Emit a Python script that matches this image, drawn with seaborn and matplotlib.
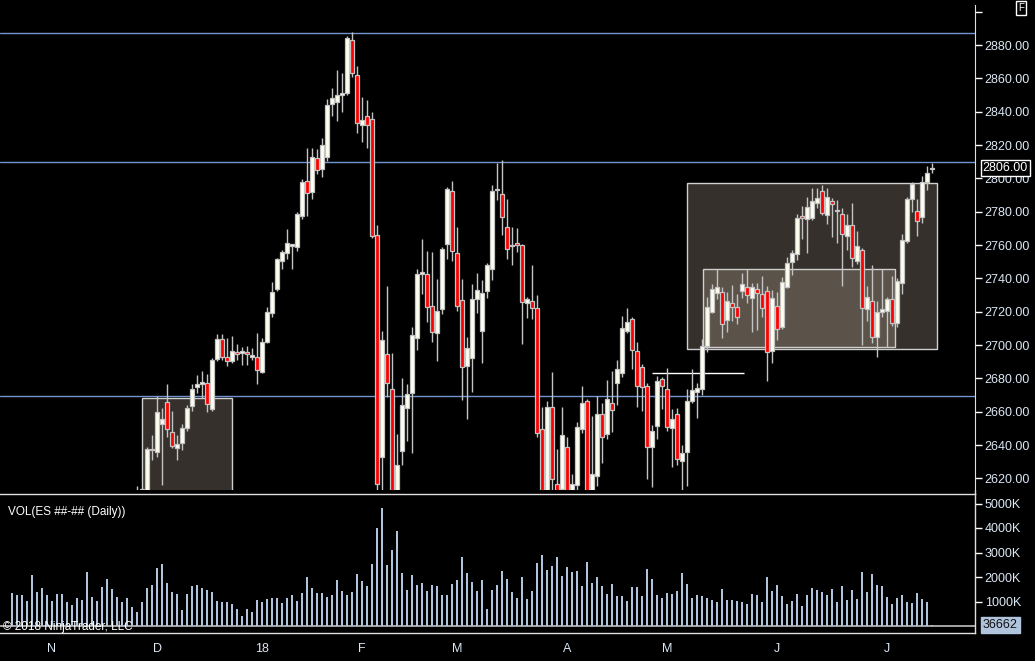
import numpy as np
import pandas as pd
import matplotlib
matplotlib.use("Agg")
import matplotlib.pyplot as plt
import matplotlib.transforms as mtransforms
from matplotlib.patches import Rectangle
import seaborn as sns

# daily ES bars, oldest first (late Oct 2017 .. early Jul 2018)
opens = [
    2566, 2570, 2573, 2577, 2580, 2584, 2586, 2589, 2587, 2592,
    2594, 2586, 2581, 2573, 2577, 2575, 2593, 2589, 2584, 2590,
    2596, 2597, 2600, 2603, 2604, 2601, 2606, 2608, 2637, 2636,
    2652.3, 2665.5, 2647.5, 2638, 2641.3, 2650.3, 2663.5, 2674.6, 2676.4, 2677,
    2661.4, 2691.4, 2703.5, 2693, 2690.2, 2695.6, 2695.5, 2696, 2692.6, 2693,
    2683.6, 2702, 2719.1, 2733.6, 2750.6, 2755.2, 2759.5, 2758.6, 2777.3, 2798.6,
    2791.7, 2812.4, 2805.8, 2813, 2844.5, 2846, 2850.2, 2851.5, 2883.2, 2862.1,
    2832, 2837.5, 2835.9, 2765.8, 2632.6, 2694.4, 2673.4, 2585, 2636.6, 2662,
    2671, 2704, 2742.4, 2742.8, 2723.2, 2707, 2721.4, 2760.4, 2792.2, 2755,
    2726.8, 2687.4, 2692, 2727.6, 2708.6, 2732.2, 2745.4, 2792.8, 2790.4, 2770.6,
    2759.2, 2761, 2759.8, 2725, 2726.6, 2722, 2649.4, 2598, 2663, 2616.4,
    2613.6, 2638.6, 2595, 2616, 2649.4, 2666.6, 2598, 2621.4, 2658.4, 2646.4,
    2665.4, 2677, 2683, 2708.2, 2715.4, 2696.2, 2686.6, 2675.6, 2638.6, 2651.6,
    2679.4, 2673.8, 2650.2, 2658.8, 2630.4, 2635.6, 2666.6, 2672, 2673.4, 2699.6,
    2719.6, 2731, 2732, 2714.8, 2725.4, 2722.6, 2732.2, 2734.6, 2728, 2733.4,
    2730.4, 2732.6, 2696.6, 2723.6, 2711, 2734.6, 2749.6, 2754.4, 2777.4, 2775.4,
    2776.4, 2785, 2792.2, 2778, 2786.6, 2780.2, 2778.4, 2765.2, 2771.8, 2750.2,
    2756.8, 2721.4, 2726.2, 2704.6, 2719.6, 2720.6, 2727.4, 2713, 2737, 2762.2,
    2787.4, 2780.6, 2776.6, 2798, 2805.4,
]
highs = [
    2574, 2576, 2580, 2583, 2588, 2590, 2592, 2593, 2595, 2597,
    2596, 2590, 2584, 2580, 2582, 2596, 2597, 2592, 2592, 2598,
    2600, 2602, 2605, 2606, 2607, 2615.5, 2614, 2638.6, 2646, 2669.5,
    2662, 2676.6, 2660.3, 2646, 2652.5, 2664, 2676.6, 2682, 2684.4, 2682.6,
    2692, 2706.7, 2706.7, 2704, 2705.5, 2700.6, 2699, 2699.5, 2698, 2707,
    2704.5, 2722.7, 2737.8, 2752.2, 2757, 2769.3, 2760.8, 2779.7, 2799.4, 2818,
    2818.4, 2817.8, 2824, 2847.4, 2854, 2865, 2863, 2885.6, 2887.6, 2867.2,
    2849, 2846.9, 2840, 2772, 2708.4, 2735.4, 2695.4, 2646.6, 2680, 2676.6,
    2710.8, 2745.4, 2763.4, 2756.4, 2756, 2739.4, 2758.6, 2794.6, 2798.2, 2770.6,
    2739.4, 2704.6, 2736.4, 2743, 2739, 2749, 2796, 2809, 2811, 2787.4,
    2771, 2770, 2760.5, 2729, 2748, 2730, 2663, 2666.6, 2684, 2637.6,
    2663, 2645, 2622.4, 2653.6, 2675.6, 2667.6, 2657.4, 2669.6, 2665, 2679,
    2684.4, 2691, 2717.4, 2722, 2717, 2701.6, 2688.6, 2677, 2652, 2681.4,
    2680.6, 2686, 2661.4, 2662, 2640, 2673.4, 2685.4, 2677.4, 2703.4, 2729,
    2736.6, 2745.4, 2734.6, 2731.6, 2736, 2730.6, 2743, 2745.4, 2737, 2737,
    2741.4, 2735.4, 2733, 2731.6, 2740.6, 2752.6, 2757, 2778.6, 2783.4, 2788.6,
    2794, 2794, 2796, 2794, 2788, 2787, 2782.4, 2778.4, 2785, 2768.4,
    2758, 2735.4, 2748, 2726.6, 2745.4, 2729, 2741.4, 2740, 2766.6, 2788.6,
    2798, 2787.4, 2801.4, 2807.4, 2809,
]
lows = [
    2562, 2565, 2569, 2572, 2574, 2579, 2580, 2583, 2584, 2586,
    2583, 2578, 2570, 2566, 2571, 2574, 2585, 2581, 2582, 2587,
    2591, 2594, 2597, 2599, 2598, 2595, 2600, 2604, 2631, 2633,
    2616, 2645, 2638, 2631, 2637, 2648.3, 2660.5, 2671.4, 2668, 2660,
    2660.5, 2690.5, 2691, 2687.6, 2689, 2691, 2688, 2688, 2691, 2676.4,
    2683, 2701, 2717, 2732.4, 2745.6, 2751.6, 2745.6, 2756.2, 2775.7, 2777.7,
    2787.3, 2802.4, 2800.7, 2810.5, 2837.5, 2834.4, 2839.9, 2850, 2860.6, 2827.5,
    2821.8, 2818.4, 2764, 2590, 2585, 2669, 2570, 2560, 2628, 2642.6,
    2635.4, 2697, 2730.6, 2714, 2702, 2690.6, 2718.4, 2751.4, 2750.6, 2720.4,
    2667, 2655.4, 2672, 2719, 2689.4, 2728, 2739, 2787, 2766, 2751.4,
    2748, 2756, 2700.6, 2716, 2715.6, 2644.6, 2585, 2590, 2600, 2575,
    2595, 2553, 2585, 2605, 2647.4, 2590, 2590, 2615.4, 2629.4, 2643.4,
    2648, 2664, 2681, 2707, 2685.4, 2663, 2660.6, 2619.4, 2614.6, 2643.4,
    2661.4, 2648.6, 2626.6, 2628, 2613, 2615.4, 2665, 2656, 2670, 2696,
    2719, 2727.6, 2704, 2708, 2714.4, 2712.4, 2728, 2725, 2708, 2709,
    2717, 2678.6, 2689.4, 2703, 2709.4, 2734, 2742, 2751, 2763.4, 2755.4,
    2775, 2782, 2778, 2772.4, 2765, 2761, 2735.4, 2757, 2746.6, 2748.6,
    2700, 2714.4, 2701, 2693, 2717, 2698.6, 2711.6, 2711, 2730.6, 2761,
    2780, 2765.4, 2773.4, 2793, 2803.4,
]
closes = [
    2570, 2573, 2577, 2580, 2584, 2586, 2589, 2587, 2592, 2594,
    2586, 2581, 2573, 2577, 2575, 2593, 2589, 2584, 2590, 2596,
    2597, 2600, 2603, 2604, 2601, 2606, 2613.4, 2637.5, 2637, 2659.5,
    2655.3, 2649.3, 2639.5, 2640.5, 2650.5, 2662.5, 2673.4, 2676.4, 2677.6, 2664.3,
    2691, 2703.5, 2692.6, 2690.2, 2696.4, 2694.6, 2695.5, 2694.6, 2694, 2685,
    2701.7, 2719.7, 2732.1, 2751.6, 2755.8, 2761.3, 2759.5, 2778.7, 2798, 2791.3,
    2813, 2805, 2820, 2844, 2848, 2850, 2850.2, 2884, 2863.1, 2833.5,
    2834.9, 2831.9, 2765.4, 2616.6, 2702.8, 2677, 2590, 2628, 2663.8, 2670.4,
    2705.8, 2742.4, 2743.6, 2722.6, 2707.6, 2720.2, 2757.4, 2793.4, 2756.2, 2723.4,
    2686.6, 2698.4, 2727.4, 2732.8, 2731.4, 2747.8, 2792.2, 2792.8, 2776.6, 2757.4,
    2759.2, 2759.8, 2726, 2727.4, 2722, 2647, 2600, 2663, 2619.4, 2590,
    2646.2, 2580, 2616.8, 2650.6, 2665.4, 2600, 2622.4, 2658.4, 2644.8, 2667.4,
    2660.8, 2685.4, 2710, 2713.6, 2696.8, 2675.2, 2674.6, 2638.8, 2648.2, 2678.2,
    2675.4, 2650.6, 2655.8, 2631.6, 2635.4, 2666.6, 2673.2, 2674, 2699.6, 2722.6,
    2733.4, 2734.6, 2712.4, 2726.6, 2722.8, 2716.8, 2736.4, 2730, 2734.6, 2731,
    2722, 2695.6, 2728, 2709.4, 2737.6, 2749, 2755, 2776, 2776, 2782.6,
    2786.6, 2788.2, 2779, 2788.6, 2784.4, 2780.2, 2766.4, 2771.8, 2752.4, 2759.2,
    2722, 2728.6, 2704.6, 2719.6, 2721.4, 2727.4, 2713, 2738.2, 2762.8, 2787.4,
    2796.6, 2774.2, 2798, 2803, 2806,
]
volume_k = [
    1360, 1253, 1280, 1040, 2080, 1400, 1560, 1253, 1040, 1293,
    1320, 1000, 840, 1160, 1080, 2200, 1200, 1040, 1600, 1920,
    1520, 1200, 1000, 1160, 760, 560, 960, 1560, 1680, 2360,
    2520, 1760, 1400, 1320, 640, 1320, 1640, 1680, 1560, 1480,
    1400, 1040, 1000, 1000, 880, 680, 400, 680, 560, 1080,
    1000, 1120, 1160, 1160, 920, 1160, 1280, 1040, 1360, 2000,
    1560, 1360, 1360, 1200, 1280, 1880, 1440, 1280, 1400, 2120,
    1840, 1640, 2520, 4000, 4800, 2480, 3120, 3880, 2160, 1480,
    2080, 1680, 1760, 1440, 1680, 1640, 1280, 1280, 1720, 1880,
    2800, 2160, 1800, 1440, 1880, 680, 1480, 1680, 2240, 1920,
    1400, 1160, 2000, 1120, 1440, 2560, 2880, 2280, 2440, 2800,
    2040, 2400, 2200, 2240, 1640, 2600, 1760, 2000, 1640, 1320,
    1720, 1240, 1240, 1040, 1600, 1600, 1240, 2320, 1920, 1280,
    1160, 1360, 1320, 1440, 2160, 1720, 1160, 1280, 1240, 1160,
    1080, 960, 1520, 1080, 1080, 1040, 960, 880, 1320, 1280,
    1000, 2000, 1440, 1680, 1240, 880, 1040, 1320, 800, 1280,
    1560, 1480, 1400, 1280, 1520, 1000, 1640, 1080, 1480, 1120,
    2200, 1400, 2120, 1680, 1640, 1200, 880, 1160, 1280, 960,
    920, 1360, 1120, 960, 36.662,
]

month_pos = [8, 29, 50, 70, 89, 111, 131, 153, 175]
month_labels = ["N", "D", "18", "F", "M", "A", "M", "J", "J"]

ref_levels = [2887, 2810, 2669.6]
# drawn boxes: (first bar, last bar, low price, high price)
zones = [(26, 44, 2560, 2668), (135.06, 185.06, 2697.6, 2797), (138.26, 176.66, 2698.6, 2745.4)]
zone_colors = ["#35302b", "#35302b", "#5b5249"]
seg_level = 2683
seg_span = (128, 146.4)

bars = pd.DataFrame({"o": opens, "h": highs, "l": lows, "c": closes, "v": volume_k})
bars["i"] = np.arange(len(bars))
bars["up"] = bars["c"] >= bars["o"]

sns.set_style("dark", {"axes.facecolor": "black", "figure.facecolor": "black"})
plt.rcParams["font.family"] = ["Liberation Sans", "DejaVu Sans"]

W, H = 1035, 661
fig = plt.figure(figsize=(W / 100, H / 100), dpi=100)
ax = fig.add_axes([0, 1 - 490 / H, 975 / W, (490 - 5) / H])
axv = fig.add_axes([0, 1 - 633 / H, 975 / W, (633 - 494) / H])

txt = "#dce8f5"
edge = "#c4c4c4"

# price panel
for (a, b, lo, hi), fc in zip(zones, zone_colors):
    ax.add_patch(Rectangle((a, lo), b - a, hi - lo, facecolor=fc, edgecolor="#cfcfcf", lw=1, zorder=1))
for lv in ref_levels:
    ax.axhline(lv, color="#7396d0", lw=1, zorder=1.5)
ax.hlines(seg_level, seg_span[0], seg_span[1], color="white", lw=1, zorder=1.5)

ax.vlines(bars["i"], bars["l"], bars["h"], color=edge, lw=1, zorder=2)
body_lo = bars[["o", "c"]].min(axis=1)
body_h = (bars["c"] - bars["o"]).abs().clip(lower=0.8)
ax.bar(bars["i"], body_h, bottom=body_lo, width=0.68,
       color=np.where(bars["up"], "#fffff0", "#ff0000"), edgecolor=edge, lw=0.9, zorder=3)

ax.set_xlim(-2.4, 192.6)
ax.set_ylim(2880 - (490 - 45) * 0.6, 2880 + 40 * 0.6)
ax.yaxis.tick_right()
ax.set_yticks(np.arange(2620, 2901, 20))
ax.set_yticklabels([f"{t:.2f}" if t < 2890 else "" for t in np.arange(2620, 2901, 20)])
ax.tick_params(axis="y", colors="white", labelcolor=txt, length=5, width=1, labelsize=9, pad=2)
ax.set_xticks([])
ax.grid(False)
for s in ["left", "top", "bottom"]:
    ax.spines[s].set_visible(False)
ax.spines["right"].set_color("#e0e0e0")

trans = mtransforms.blended_transform_factory(ax.transAxes, ax.transData)
ax.text(1.008, closes[-1], f"{closes[-1]:.2f}", transform=trans, va="center", ha="left",
        color="white", fontsize=9,
        bbox=dict(boxstyle="square,pad=0.15", fc="black", ec="white", lw=1))

# thin joint between the two panels on the right axis
fig.add_artist(plt.Line2D([975 / W, 975 / W], [1 - 494 / H, 1 - 490 / H], color="#e0e0e0", lw=1))

# volume panel
sns.barplot(data=bars, x="i", y="v", native_scale=True, width=0.4, color="#b0c4de",
            saturation=1, errorbar=None, linewidth=0, ax=axv)
axv.axhline(0, color="#c0c0c0", lw=1.2, zorder=0.5)
axv.set_xlim(-2.4, 192.6)
axv.set_ylim(-(633 - 626) / 24.5 * 1000, (626 - 494) / 24.5 * 1000)
axv.set_xlabel("")
axv.set_ylabel("")
axv.yaxis.tick_right()
axv.set_yticks([1000, 2000, 3000, 4000, 5000])
axv.set_yticklabels(["1000K", "2000K", "3000K", "4000K", "5000K"])
axv.tick_params(axis="y", colors="white", labelcolor=txt, length=5, width=1, labelsize=9, pad=2)
axv.set_xticks(month_pos)
axv.set_xticklabels(month_labels)
axv.tick_params(axis="x", colors="white", labelcolor=txt, length=5, width=1, labelsize=9, pad=2)
axv.grid(False)
axv.spines["left"].set_visible(False)
for s in ["top", "bottom", "right"]:
    axv.spines[s].set_color("#e0e0e0")
    axv.spines[s].set_linewidth(1)

vtrans = mtransforms.blended_transform_factory(axv.transAxes, axv.transData)
axv.text(1.008, 36.662, "36662", transform=vtrans, va="center", ha="left", color="#111111",
         fontsize=9, bbox=dict(boxstyle="square,pad=0.15", fc="#b0c4de", ec="#b0c4de"))
axv.text(0.008, 0.87, "VOL(ES ##-## (Daily))", transform=axv.transAxes, color="white",
         fontsize=8.5, va="center", ha="left")
axv.text(0.003, 0.04, "\u00a9 2018 NinjaTrader, LLC", transform=axv.transAxes, color="white",
         fontsize=8.5, va="center", ha="left", zorder=5)

fig.text(1021 / W, 1 - 8 / H, "F", color="white", fontsize=7, ha="center", va="center",
         bbox=dict(boxstyle="square,pad=0.2", fc="black", ec="white", lw=1))

fig.savefig("out.png", dpi=100, facecolor="black")
